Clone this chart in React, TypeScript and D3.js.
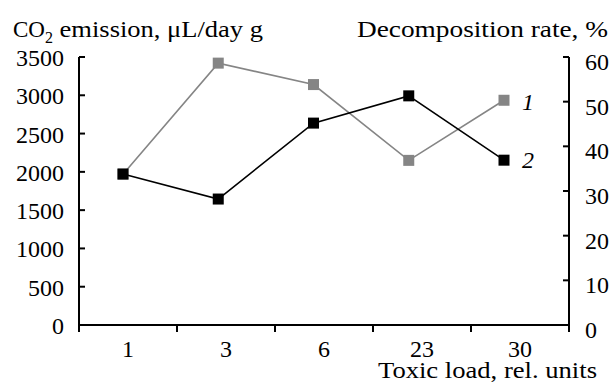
import React from "react";
import * as d3 from "d3";

const categories = ["1", "3", "6", "23", "30"];
const co2Emission = [1970, 3420, 3140, 2150, 2935]; // series 1, left axis
const decompositionRate = [33.8, 28.2, 45.2, 51.3, 36.9]; // series 2, right axis, %
const leftTicks = [0, 500, 1000, 1500, 2000, 2500, 3000, 3500];
const rightTicks = [0, 10, 20, 30, 40, 50, 60];

const W = 612;
const H = 386;
const m = { left: 79, right: 569, top: 57, bottom: 325 };
const font = "'Liberation Serif', 'DejaVu Serif', serif";
const FS = 24;
const GRAY = "#858585";

export default function App() {
  const xBand = d3.scaleBand<string>().domain(categories).range([m.left, m.right]);
  const xPoint = d3.scalePoint<string>().domain(categories).range([123, 504]);
  const yL = d3.scaleLinear().domain([0, 3500]).range([m.bottom, m.top]);
  const yR = d3.scaleLinear().domain([0, 60]).range([m.bottom, m.top]);

  const line1 = d3
    .line<number>()
    .x((_, i) => xPoint(categories[i]) as number)
    .y((d) => yL(d));
  const line2 = d3
    .line<number>()
    .x((_, i) => xPoint(categories[i]) as number)
    .y((d) => yR(d));

  const boundaries = [...categories.map((c) => xBand(c) as number), m.right];
  const ms = 11;

  return (
    <svg
      width={W}
      height={H}
      style={{ position: "absolute", left: 0, top: 0, background: "#fff", fontFamily: font, fontSize: FS }}
    >
      {/* titles */}
      <text x={13} y={37} fontSize={23}>
        CO<tspan style={{ fontSize: 16 }} dy={6}>2</tspan>
        <tspan dy={-6} textLength={210} lengthAdjust="spacingAndGlyphs"> emission, μL/day g</tspan>
      </text>
      <text x={357} y={37} fontSize={23} textLength={251} lengthAdjust="spacingAndGlyphs">
        Decomposition rate, %
      </text>

      {/* left axis */}
      <line x1={m.left} x2={m.left} y1={m.top} y2={m.bottom + 7} stroke="#000" strokeWidth={2} />
      {leftTicks.map((t) => (
        <g key={"l" + t}>
          <line x1={m.left} x2={m.left + 6} y1={yL(t)} y2={yL(t)} stroke="#000" strokeWidth={2} />
          <text x={64} y={yL(t) + 9} textAnchor="end">
            {t}
          </text>
        </g>
      ))}

      {/* right axis */}
      <line x1={m.right} x2={m.right} y1={m.top} y2={m.bottom + 7} stroke="#000" strokeWidth={2} />
      {rightTicks.map((t) => (
        <g key={"r" + t}>
          <line x1={m.right - 6} x2={m.right} y1={yR(t)} y2={yR(t)} stroke="#000" strokeWidth={2} />
          <text x={585} y={yR(t) + 13}>
            {t}
          </text>
        </g>
      ))}

      {/* x axis */}
      <line x1={m.left} x2={m.right} y1={m.bottom} y2={m.bottom} stroke="#000" strokeWidth={2} />
      {boundaries.map((b, i) => (
        <line key={"xb" + i} x1={b} x2={b} y1={m.bottom} y2={m.bottom + 7} stroke="#000" strokeWidth={2} />
      ))}
      {categories.map((c) => (
        <text key={"xc" + c} x={(xBand(c) as number) + xBand.bandwidth() / 2} y={357} textAnchor="middle">
          {c}
        </text>
      ))}
      <text x={378} y={378} fontSize={23} textLength={219} lengthAdjust="spacingAndGlyphs">
        Toxic load, rel. units
      </text>

      {/* series 1 (gray) */}
      <path d={line1(co2Emission) as string} fill="none" stroke={GRAY} strokeWidth={1.6} />
      {co2Emission.map((v, i) => (
        <rect
          key={"g" + i}
          x={(xPoint(categories[i]) as number) - ms / 2}
          y={yL(v) - ms / 2}
          width={ms}
          height={ms}
          fill={GRAY}
        />
      ))}

      {/* series 2 (black) */}
      <path d={line2(decompositionRate) as string} fill="none" stroke="#000" strokeWidth={1.6} />
      {decompositionRate.map((v, i) => (
        <rect
          key={"b" + i}
          x={(xPoint(categories[i]) as number) - ms / 2}
          y={yR(v) - ms / 2}
          width={ms}
          height={ms}
          fill="#000"
        />
      ))}

      {/* series labels */}
      <text
        x={(xPoint(categories[4]) as number) + 18}
        y={yL(co2Emission[4]) + 10}
        style={{ fontStyle: "italic" }}
      >
        1
      </text>
      <text
        x={(xPoint(categories[4]) as number) + 18}
        y={yR(decompositionRate[4]) + 8}
        style={{ fontStyle: "italic" }}
      >
        2
      </text>
    </svg>
  );
}
